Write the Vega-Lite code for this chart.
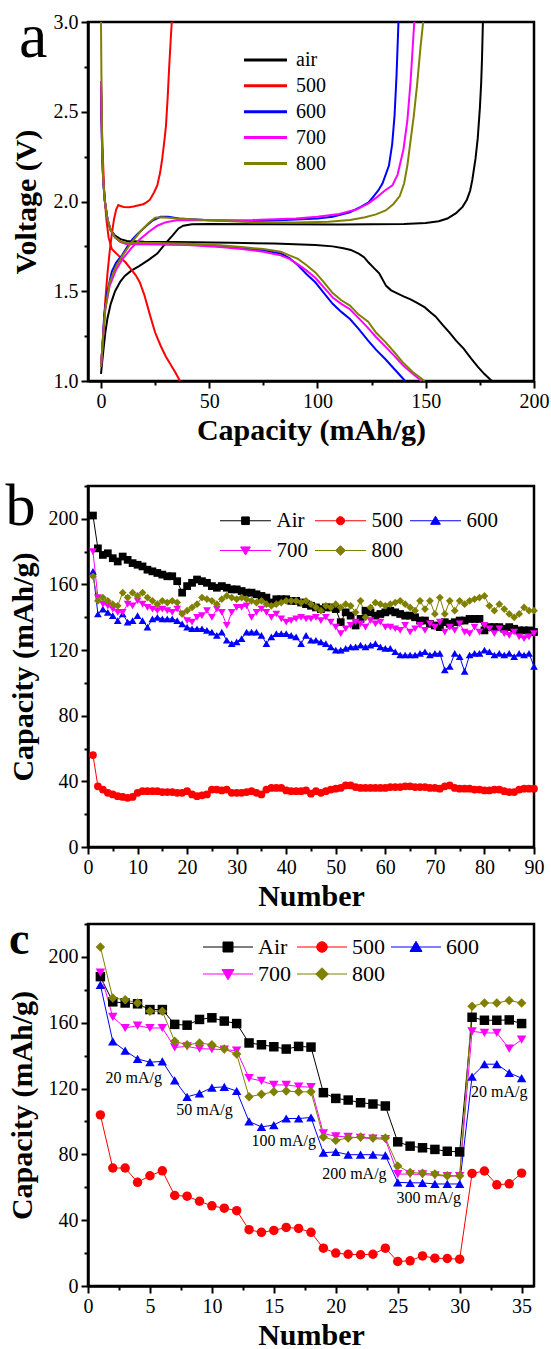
{
"$schema":"https://vega.github.io/schema/vega-lite/v6.json",
"background":"white",
"padding":{"left":4,"top":4,"right":0,"bottom":0},
"bounds":"flush",
"spacing":105,
"resolve":{"scale":{"x":"independent","y":"independent","color":"independent","shape":"independent"},"legend":{"color":"independent","shape":"independent"},"axis":{"x":"independent","y":"independent"}},
"config":{
 "font":"Liberation Serif",
 "view":{"stroke":"black","strokeWidth":2.5},
 "axis":{"labelFont":"Liberation Serif","labelFontSize":20,"labelColor":"black","titleFont":"Liberation Serif","titleFontSize":30,"titleFontWeight":"bold","titleColor":"black","domainColor":"black","domainWidth":2.5,"tickColor":"black","tickWidth":2,"grid":false,"labelPadding":3,"labelOverlap":false,"labelFlush":false},
 "axisX":{"titlePadding":4},
 "axisY":{"titlePadding":11},
 "legend":{"labelFont":"Liberation Serif"},
 "title":{"font":"Liberation Serif","color":"black","anchor":"start","frame":"group","offset":0,"baseline":"alphabetic"}
},
"vconcat":[
{
 "width":446,"height":359,
 "title":{"text":"a","fontSize":64,"fontWeight":"normal","dx":-69,"dy":62},
 "data":{"values":[
{"s":"air","g":"d","x":0,"y":2.67},{"s":"air","g":"d","x":0.5,"y":2.3},{"s":"air","g":"d","x":1,"y":2.12},{"s":"air","g":"d","x":1.8,"y":2.0},{"s":"air","g":"d","x":3,"y":1.9},{"s":"air","g":"d","x":4.5,"y":1.84},{"s":"air","g":"d","x":6.5,"y":1.81},{"s":"air","g":"d","x":9,"y":1.79},{"s":"air","g":"d","x":12,"y":1.78},{"s":"air","g":"d","x":20,"y":1.776},{"s":"air","g":"d","x":34,"y":1.774},{"s":"air","g":"d","x":60,"y":1.77},{"s":"air","g":"d","x":80,"y":1.766},{"s":"air","g":"d","x":99,"y":1.757},{"s":"air","g":"d","x":107,"y":1.75},{"s":"air","g":"d","x":112,"y":1.74},{"s":"air","g":"d","x":115.4,"y":1.73},{"s":"air","g":"d","x":119,"y":1.71},{"s":"air","g":"d","x":121.5,"y":1.69},{"s":"air","g":"d","x":123.6,"y":1.66},{"s":"air","g":"d","x":126,"y":1.63},{"s":"air","g":"d","x":128.5,"y":1.6},{"s":"air","g":"d","x":131.7,"y":1.53},{"s":"air","g":"d","x":134,"y":1.505},{"s":"air","g":"d","x":136.6,"y":1.49},{"s":"air","g":"d","x":140,"y":1.47},{"s":"air","g":"d","x":143,"y":1.455},{"s":"air","g":"d","x":146,"y":1.435},{"s":"air","g":"d","x":149.6,"y":1.41},{"s":"air","g":"d","x":152,"y":1.385},{"s":"air","g":"d","x":154.5,"y":1.36},{"s":"air","g":"d","x":158,"y":1.31},{"s":"air","g":"d","x":161,"y":1.27},{"s":"air","g":"d","x":164,"y":1.225},{"s":"air","g":"d","x":167.5,"y":1.18},{"s":"air","g":"d","x":171,"y":1.125},{"s":"air","g":"d","x":174,"y":1.08},{"s":"air","g":"d","x":177,"y":1.04},{"s":"air","g":"d","x":180.5,"y":1.0},
{"s":"air","g":"c","x":0,"y":1.04},{"s":"air","g":"c","x":0.5,"y":1.1},{"s":"air","g":"c","x":1,"y":1.16},{"s":"air","g":"c","x":2,"y":1.27},{"s":"air","g":"c","x":3,"y":1.35},{"s":"air","g":"c","x":4.5,"y":1.43},{"s":"air","g":"c","x":6.5,"y":1.5},{"s":"air","g":"c","x":9,"y":1.555},{"s":"air","g":"c","x":11,"y":1.585},{"s":"air","g":"c","x":14,"y":1.615},{"s":"air","g":"c","x":17.6,"y":1.64},{"s":"air","g":"c","x":22,"y":1.675},{"s":"air","g":"c","x":26,"y":1.71},{"s":"air","g":"c","x":30,"y":1.77},{"s":"air","g":"c","x":33,"y":1.81},{"s":"air","g":"c","x":35.8,"y":1.85},{"s":"air","g":"c","x":38,"y":1.865},{"s":"air","g":"c","x":42,"y":1.873},{"s":"air","g":"c","x":50,"y":1.875},{"s":"air","g":"c","x":80,"y":1.873},{"s":"air","g":"c","x":110,"y":1.872},{"s":"air","g":"c","x":140,"y":1.875},{"s":"air","g":"c","x":150,"y":1.88},{"s":"air","g":"c","x":156,"y":1.89},{"s":"air","g":"c","x":160,"y":1.905},{"s":"air","g":"c","x":164,"y":1.935},{"s":"air","g":"c","x":167,"y":1.97},{"s":"air","g":"c","x":169,"y":2.01},{"s":"air","g":"c","x":170.5,"y":2.06},{"s":"air","g":"c","x":171.5,"y":2.12},{"s":"air","g":"c","x":173,"y":2.24},{"s":"air","g":"c","x":174,"y":2.35},{"s":"air","g":"c","x":175,"y":2.52},{"s":"air","g":"c","x":175.6,"y":2.66},{"s":"air","g":"c","x":176,"y":2.8},{"s":"air","g":"c","x":176.4,"y":3.0},
{"s":"500","g":"d","x":0,"y":2.6},{"s":"500","g":"d","x":0.7,"y":2.3},{"s":"500","g":"d","x":1.5,"y":2.05},{"s":"500","g":"d","x":2.5,"y":1.9},{"s":"500","g":"d","x":3.5,"y":1.8},{"s":"500","g":"d","x":5,"y":1.735},{"s":"500","g":"d","x":8,"y":1.7},{"s":"500","g":"d","x":11.4,"y":1.66},{"s":"500","g":"d","x":14,"y":1.62},{"s":"500","g":"d","x":16,"y":1.59},{"s":"500","g":"d","x":17.9,"y":1.55},{"s":"500","g":"d","x":20,"y":1.48},{"s":"500","g":"d","x":22.8,"y":1.36},{"s":"500","g":"d","x":25,"y":1.27},{"s":"500","g":"d","x":27.6,"y":1.195},{"s":"500","g":"d","x":30,"y":1.135},{"s":"500","g":"d","x":32.5,"y":1.085},{"s":"500","g":"d","x":34.5,"y":1.045},{"s":"500","g":"d","x":36.5,"y":1.0},
{"s":"500","g":"c","x":0,"y":1.08},{"s":"500","g":"c","x":1,"y":1.25},{"s":"500","g":"c","x":2,"y":1.45},{"s":"500","g":"c","x":3,"y":1.6},{"s":"500","g":"c","x":4,"y":1.72},{"s":"500","g":"c","x":5,"y":1.82},{"s":"500","g":"c","x":6,"y":1.9},{"s":"500","g":"c","x":7,"y":1.955},{"s":"500","g":"c","x":8,"y":1.98},{"s":"500","g":"c","x":9,"y":1.975},{"s":"500","g":"c","x":10.5,"y":1.97},{"s":"500","g":"c","x":13,"y":1.968},{"s":"500","g":"c","x":15,"y":1.972},{"s":"500","g":"c","x":17,"y":1.978},{"s":"500","g":"c","x":19.5,"y":1.985},{"s":"500","g":"c","x":21,"y":1.995},{"s":"500","g":"c","x":22.6,"y":2.01},{"s":"500","g":"c","x":24.5,"y":2.05},{"s":"500","g":"c","x":26,"y":2.09},{"s":"500","g":"c","x":27.3,"y":2.16},{"s":"500","g":"c","x":28.3,"y":2.24},{"s":"500","g":"c","x":29.3,"y":2.34},{"s":"500","g":"c","x":30,"y":2.42},{"s":"500","g":"c","x":30.8,"y":2.58},{"s":"500","g":"c","x":31.5,"y":2.75},{"s":"500","g":"c","x":32.2,"y":2.9},{"s":"500","g":"c","x":32.7,"y":3.0},
{"s":"600","g":"d","x":0,"y":2.67},{"s":"600","g":"d","x":0.5,"y":2.3},{"s":"600","g":"d","x":1,"y":2.12},{"s":"600","g":"d","x":1.8,"y":2.0},{"s":"600","g":"d","x":3,"y":1.9},{"s":"600","g":"d","x":4.5,"y":1.84},{"s":"600","g":"d","x":6.5,"y":1.8},{"s":"600","g":"d","x":9,"y":1.775},{"s":"600","g":"d","x":12,"y":1.765},{"s":"600","g":"d","x":20,"y":1.765},{"s":"600","g":"d","x":40,"y":1.76},{"s":"600","g":"d","x":55,"y":1.75},{"s":"600","g":"d","x":65,"y":1.74},{"s":"600","g":"d","x":75,"y":1.728},{"s":"600","g":"d","x":83,"y":1.71},{"s":"600","g":"d","x":87,"y":1.685},{"s":"600","g":"d","x":91,"y":1.645},{"s":"600","g":"d","x":95,"y":1.595},{"s":"600","g":"d","x":99,"y":1.55},{"s":"600","g":"d","x":103,"y":1.49},{"s":"600","g":"d","x":107,"y":1.43},{"s":"600","g":"d","x":111,"y":1.385},{"s":"600","g":"d","x":115,"y":1.345},{"s":"600","g":"d","x":119,"y":1.29},{"s":"600","g":"d","x":123,"y":1.23},{"s":"600","g":"d","x":127,"y":1.175},{"s":"600","g":"d","x":131.5,"y":1.12},{"s":"600","g":"d","x":136,"y":1.06},{"s":"600","g":"d","x":140.5,"y":1.0},
{"s":"600","g":"c","x":0,"y":1.08},{"s":"600","g":"c","x":0.7,"y":1.2},{"s":"600","g":"c","x":1.5,"y":1.37},{"s":"600","g":"c","x":3,"y":1.5},{"s":"600","g":"c","x":5,"y":1.61},{"s":"600","g":"c","x":7,"y":1.66},{"s":"600","g":"c","x":9.7,"y":1.7},{"s":"600","g":"c","x":12,"y":1.745},{"s":"600","g":"c","x":14.6,"y":1.79},{"s":"600","g":"c","x":17,"y":1.82},{"s":"600","g":"c","x":21,"y":1.865},{"s":"600","g":"c","x":24,"y":1.895},{"s":"600","g":"c","x":27.5,"y":1.915},{"s":"600","g":"c","x":31,"y":1.915},{"s":"600","g":"c","x":36,"y":1.905},{"s":"600","g":"c","x":50,"y":1.895},{"s":"600","g":"c","x":70,"y":1.89},{"s":"600","g":"c","x":90,"y":1.9},{"s":"600","g":"c","x":100,"y":1.905},{"s":"600","g":"c","x":107,"y":1.915},{"s":"600","g":"c","x":115,"y":1.94},{"s":"600","g":"c","x":120,"y":1.97},{"s":"600","g":"c","x":123.6,"y":1.995},{"s":"600","g":"c","x":126,"y":2.03},{"s":"600","g":"c","x":128,"y":2.06},{"s":"600","g":"c","x":130,"y":2.1},{"s":"600","g":"c","x":133,"y":2.2},{"s":"600","g":"c","x":134.5,"y":2.32},{"s":"600","g":"c","x":135.6,"y":2.48},{"s":"600","g":"c","x":136.5,"y":2.7},{"s":"600","g":"c","x":137.4,"y":3.0},
{"s":"700","g":"d","x":0,"y":2.67},{"s":"700","g":"d","x":0.5,"y":2.3},{"s":"700","g":"d","x":1,"y":2.12},{"s":"700","g":"d","x":1.8,"y":2.0},{"s":"700","g":"d","x":3,"y":1.9},{"s":"700","g":"d","x":4.5,"y":1.84},{"s":"700","g":"d","x":6.5,"y":1.8},{"s":"700","g":"d","x":9,"y":1.775},{"s":"700","g":"d","x":12,"y":1.762},{"s":"700","g":"d","x":20,"y":1.762},{"s":"700","g":"d","x":40,"y":1.757},{"s":"700","g":"d","x":55,"y":1.747},{"s":"700","g":"d","x":65,"y":1.735},{"s":"700","g":"d","x":75,"y":1.72},{"s":"700","g":"d","x":83,"y":1.7},{"s":"700","g":"d","x":87,"y":1.68},{"s":"700","g":"d","x":91,"y":1.65},{"s":"700","g":"d","x":95,"y":1.615},{"s":"700","g":"d","x":99,"y":1.575},{"s":"700","g":"d","x":103,"y":1.52},{"s":"700","g":"d","x":107,"y":1.465},{"s":"700","g":"d","x":111,"y":1.43},{"s":"700","g":"d","x":115,"y":1.4},{"s":"700","g":"d","x":119,"y":1.35},{"s":"700","g":"d","x":123,"y":1.3},{"s":"700","g":"d","x":127,"y":1.245},{"s":"700","g":"d","x":131.5,"y":1.19},{"s":"700","g":"d","x":135.5,"y":1.14},{"s":"700","g":"d","x":139.7,"y":1.085},{"s":"700","g":"d","x":144,"y":1.04},{"s":"700","g":"d","x":148,"y":1.0},
{"s":"700","g":"c","x":0,"y":1.08},{"s":"700","g":"c","x":1,"y":1.25},{"s":"700","g":"c","x":2,"y":1.4},{"s":"700","g":"c","x":4,"y":1.53},{"s":"700","g":"c","x":7,"y":1.62},{"s":"700","g":"c","x":10,"y":1.68},{"s":"700","g":"c","x":14,"y":1.74},{"s":"700","g":"c","x":18,"y":1.79},{"s":"700","g":"c","x":22,"y":1.83},{"s":"700","g":"c","x":26,"y":1.865},{"s":"700","g":"c","x":30,"y":1.885},{"s":"700","g":"c","x":35,"y":1.895},{"s":"700","g":"c","x":50,"y":1.895},{"s":"700","g":"c","x":70,"y":1.897},{"s":"700","g":"c","x":90,"y":1.905},{"s":"700","g":"c","x":100,"y":1.915},{"s":"700","g":"c","x":110,"y":1.93},{"s":"700","g":"c","x":118,"y":1.955},{"s":"700","g":"c","x":123.5,"y":1.99},{"s":"700","g":"c","x":127,"y":2.02},{"s":"700","g":"c","x":131,"y":2.06},{"s":"700","g":"c","x":134.6,"y":2.09},{"s":"700","g":"c","x":137,"y":2.15},{"s":"700","g":"c","x":139.7,"y":2.29},{"s":"700","g":"c","x":141.5,"y":2.45},{"s":"700","g":"c","x":143,"y":2.67},{"s":"700","g":"c","x":144.7,"y":3.0},
{"s":"800","g":"d","x":0,"y":3.0},{"s":"800","g":"d","x":0.2,"y":2.7},{"s":"800","g":"d","x":0.5,"y":2.35},{"s":"800","g":"d","x":1,"y":2.13},{"s":"800","g":"d","x":1.8,"y":2.0},{"s":"800","g":"d","x":3,"y":1.9},{"s":"800","g":"d","x":4.5,"y":1.84},{"s":"800","g":"d","x":6.5,"y":1.8},{"s":"800","g":"d","x":9,"y":1.778},{"s":"800","g":"d","x":12,"y":1.768},{"s":"800","g":"d","x":20,"y":1.77},{"s":"800","g":"d","x":40,"y":1.765},{"s":"800","g":"d","x":55,"y":1.756},{"s":"800","g":"d","x":65,"y":1.746},{"s":"800","g":"d","x":75,"y":1.735},{"s":"800","g":"d","x":83,"y":1.72},{"s":"800","g":"d","x":87,"y":1.7},{"s":"800","g":"d","x":91,"y":1.68},{"s":"800","g":"d","x":95,"y":1.645},{"s":"800","g":"d","x":99,"y":1.605},{"s":"800","g":"d","x":103,"y":1.55},{"s":"800","g":"d","x":107,"y":1.49},{"s":"800","g":"d","x":111,"y":1.45},{"s":"800","g":"d","x":115,"y":1.42},{"s":"800","g":"d","x":119,"y":1.37},{"s":"800","g":"d","x":123.4,"y":1.33},{"s":"800","g":"d","x":127,"y":1.27},{"s":"800","g":"d","x":131.5,"y":1.215},{"s":"800","g":"d","x":135.5,"y":1.16},{"s":"800","g":"d","x":139.7,"y":1.1},{"s":"800","g":"d","x":144,"y":1.05},{"s":"800","g":"d","x":149.5,"y":1.0},
{"s":"800","g":"c","x":0,"y":1.08},{"s":"800","g":"c","x":1,"y":1.25},{"s":"800","g":"c","x":2,"y":1.4},{"s":"800","g":"c","x":4,"y":1.55},{"s":"800","g":"c","x":7,"y":1.64},{"s":"800","g":"c","x":10,"y":1.7},{"s":"800","g":"c","x":14,"y":1.77},{"s":"800","g":"c","x":18,"y":1.83},{"s":"800","g":"c","x":22,"y":1.88},{"s":"800","g":"c","x":25,"y":1.91},{"s":"800","g":"c","x":28,"y":1.912},{"s":"800","g":"c","x":35,"y":1.905},{"s":"800","g":"c","x":50,"y":1.895},{"s":"800","g":"c","x":70,"y":1.885},{"s":"800","g":"c","x":90,"y":1.883},{"s":"800","g":"c","x":105,"y":1.887},{"s":"800","g":"c","x":115,"y":1.897},{"s":"800","g":"c","x":122,"y":1.912},{"s":"800","g":"c","x":127,"y":1.928},{"s":"800","g":"c","x":131.5,"y":1.95},{"s":"800","g":"c","x":135,"y":1.985},{"s":"800","g":"c","x":138,"y":2.03},{"s":"800","g":"c","x":140,"y":2.1},{"s":"800","g":"c","x":141.5,"y":2.2},{"s":"800","g":"c","x":143,"y":2.34},{"s":"800","g":"c","x":144.5,"y":2.48},{"s":"800","g":"c","x":146,"y":2.65},{"s":"800","g":"c","x":147.5,"y":2.85},{"s":"800","g":"c","x":148.8,"y":3.0}
 ]},
 "mark":{"type":"line","strokeWidth":2},
 "encoding":{
  "x":{"field":"x","type":"quantitative","scale":{"domain":[-6,200],"nice":false,"zero":false},
   "axis":{"title":"Capacity (mAh/g)","values":[0,25,50,75,100,125,150,175,200],"labelExpr":"datum.value % 50 === 0 ? datum.label : ''","tickSize":{"condition":{"test":"datum.value % 50 !== 0","value":4},"value":7}}},
  "y":{"field":"y","type":"quantitative","scale":{"domain":[1,3],"nice":false,"zero":false},
   "axis":{"title":"Voltage (V)","titlePadding":12,"values":[1,1.25,1.5,1.75,2,2.25,2.5,2.75,3],"labelExpr":"round(datum.value*100) % 50 === 0 ? format(datum.value,'.1f') : ''","tickSize":{"condition":{"test":"round(datum.value*100) % 50 !== 0","value":4},"value":7}}},
  "color":{"field":"s","type":"nominal","scale":{"domain":["air","500","600","700","800"],"range":["#000000","#ff0000","#0000ff","#ff00ff","#808000"]},
   "legend":{"title":null,"orient":"none","legendX":156,"legendY":25.4,"symbolType":"M-2,0H2","symbolSize":462,"symbolStrokeWidth":3,"symbolOffset":9,"labelOffset":18,"labelFont":"Liberation Serif","labelFontSize":20,"labelColor":"black","rowPadding":2.9,"padding":0}},
  "detail":{"field":"g"}
 }
},
{
 "bounds":"flush",
 "spacing":77,
 "resolve":{"scale":{"x":"independent","y":"independent","color":"independent","shape":"independent"},"legend":{"color":"independent","shape":"independent"},"axis":{"x":"independent","y":"independent"}},
 "vconcat":[
 {
  "width":446,"height":361,
  "title":{"text":"b","fontSize":60,"fontWeight":"normal","dx":-82.5,"dy":66},
  "data":{"values":[
{"s":"Air","n":1,"v":202},{"s":"Air","n":2,"v":182},{"s":"Air","n":3,"v":178},{"s":"Air","n":4,"v":179},{"s":"Air","n":5,"v":176},{"s":"Air","n":6,"v":174},{"s":"Air","n":7,"v":177},{"s":"Air","n":8,"v":175},{"s":"Air","n":9,"v":173},{"s":"Air","n":10,"v":172},
{"s":"Air","n":11,"v":171},{"s":"Air","n":12,"v":169},{"s":"Air","n":13,"v":168},{"s":"Air","n":14,"v":167},{"s":"Air","n":15,"v":166},{"s":"Air","n":16,"v":165},{"s":"Air","n":17,"v":165},{"s":"Air","n":18,"v":162},{"s":"Air","n":19,"v":155},{"s":"Air","n":20,"v":159},
{"s":"Air","n":21,"v":161},{"s":"Air","n":22,"v":163},{"s":"Air","n":23,"v":162},{"s":"Air","n":24,"v":161},{"s":"Air","n":25,"v":159},{"s":"Air","n":26,"v":158},{"s":"Air","n":27,"v":159},{"s":"Air","n":28,"v":158},{"s":"Air","n":29,"v":157},{"s":"Air","n":30,"v":157},
{"s":"Air","n":31,"v":156},{"s":"Air","n":32,"v":155},{"s":"Air","n":33,"v":155},{"s":"Air","n":34,"v":154},{"s":"Air","n":35,"v":153},{"s":"Air","n":36,"v":152},{"s":"Air","n":37,"v":149},{"s":"Air","n":38,"v":151},{"s":"Air","n":39,"v":151},{"s":"Air","n":40,"v":151},
{"s":"Air","n":41,"v":150},{"s":"Air","n":42,"v":150},{"s":"Air","n":43,"v":149},{"s":"Air","n":44,"v":148},{"s":"Air","n":45,"v":147},{"s":"Air","n":46,"v":146},{"s":"Air","n":47,"v":145},{"s":"Air","n":48,"v":146},{"s":"Air","n":49,"v":146},{"s":"Air","n":50,"v":145},
{"s":"Air","n":51,"v":137},{"s":"Air","n":52,"v":143},{"s":"Air","n":53,"v":141},{"s":"Air","n":54,"v":135},{"s":"Air","n":55,"v":139},{"s":"Air","n":56,"v":144},{"s":"Air","n":57,"v":143},{"s":"Air","n":58,"v":141},{"s":"Air","n":59,"v":142},{"s":"Air","n":60,"v":143},
{"s":"Air","n":61,"v":144},{"s":"Air","n":62,"v":143},{"s":"Air","n":63,"v":142},{"s":"Air","n":64,"v":141},{"s":"Air","n":65,"v":141},{"s":"Air","n":66,"v":140},{"s":"Air","n":67,"v":138},{"s":"Air","n":68,"v":138},{"s":"Air","n":69,"v":136},{"s":"Air","n":70,"v":135},
{"s":"Air","n":71,"v":134},{"s":"Air","n":72,"v":137},{"s":"Air","n":73,"v":136},{"s":"Air","n":74,"v":137},{"s":"Air","n":75,"v":138},{"s":"Air","n":76,"v":138},{"s":"Air","n":77,"v":139},{"s":"Air","n":78,"v":139},{"s":"Air","n":79,"v":139},{"s":"Air","n":80,"v":132},
{"s":"Air","n":81,"v":134},{"s":"Air","n":82,"v":134},{"s":"Air","n":83,"v":134},{"s":"Air","n":84,"v":133},{"s":"Air","n":85,"v":134},{"s":"Air","n":86,"v":133},{"s":"Air","n":87,"v":132},{"s":"Air","n":88,"v":132},{"s":"Air","n":89,"v":132},{"s":"Air","n":90,"v":131},
{"s":"500","n":1,"v":56},{"s":"500","n":2,"v":37},{"s":"500","n":3,"v":35},{"s":"500","n":4,"v":33},{"s":"500","n":5,"v":32},{"s":"500","n":6,"v":31},{"s":"500","n":7,"v":30.5},{"s":"500","n":8,"v":30},{"s":"500","n":9,"v":30.5},{"s":"500","n":10,"v":33},
{"s":"500","n":11,"v":34},{"s":"500","n":12,"v":34},{"s":"500","n":13,"v":34},{"s":"500","n":14,"v":34},{"s":"500","n":15,"v":33.5},{"s":"500","n":16,"v":33.5},{"s":"500","n":17,"v":33.5},{"s":"500","n":18,"v":33},{"s":"500","n":19,"v":33},{"s":"500","n":20,"v":34},
{"s":"500","n":21,"v":32},{"s":"500","n":22,"v":31},{"s":"500","n":23,"v":31.5},{"s":"500","n":24,"v":32},{"s":"500","n":25,"v":35},{"s":"500","n":26,"v":35},{"s":"500","n":27,"v":34.5},{"s":"500","n":28,"v":35},{"s":"500","n":29,"v":33},{"s":"500","n":30,"v":33},
{"s":"500","n":31,"v":33},{"s":"500","n":32,"v":33.5},{"s":"500","n":33,"v":34},{"s":"500","n":34,"v":33},{"s":"500","n":35,"v":32},{"s":"500","n":36,"v":35},{"s":"500","n":37,"v":36},{"s":"500","n":38,"v":36},{"s":"500","n":39,"v":36},{"s":"500","n":40,"v":34.5},
{"s":"500","n":41,"v":34},{"s":"500","n":42,"v":34},{"s":"500","n":43,"v":34},{"s":"500","n":44,"v":34.5},{"s":"500","n":45,"v":32.5},{"s":"500","n":46,"v":34},{"s":"500","n":47,"v":33},{"s":"500","n":48,"v":34},{"s":"500","n":49,"v":35},{"s":"500","n":50,"v":35.5},
{"s":"500","n":51,"v":36},{"s":"500","n":52,"v":37.5},{"s":"500","n":53,"v":37.5},{"s":"500","n":54,"v":36.5},{"s":"500","n":55,"v":36},{"s":"500","n":56,"v":36},{"s":"500","n":57,"v":36},{"s":"500","n":58,"v":36},{"s":"500","n":59,"v":36},{"s":"500","n":60,"v":36},
{"s":"500","n":61,"v":36.5},{"s":"500","n":62,"v":36.5},{"s":"500","n":63,"v":36.5},{"s":"500","n":64,"v":37},{"s":"500","n":65,"v":37},{"s":"500","n":66,"v":36.5},{"s":"500","n":67,"v":36.5},{"s":"500","n":68,"v":36.5},{"s":"500","n":69,"v":36},{"s":"500","n":70,"v":36},
{"s":"500","n":71,"v":35.5},{"s":"500","n":72,"v":37},{"s":"500","n":73,"v":37.5},{"s":"500","n":74,"v":36},{"s":"500","n":75,"v":35.5},{"s":"500","n":76,"v":35.5},{"s":"500","n":77,"v":35.5},{"s":"500","n":78,"v":35},{"s":"500","n":79,"v":35},{"s":"500","n":80,"v":34.5},
{"s":"500","n":81,"v":34.5},{"s":"500","n":82,"v":35},{"s":"500","n":83,"v":35},{"s":"500","n":84,"v":34},{"s":"500","n":85,"v":33.5},{"s":"500","n":86,"v":33.5},{"s":"500","n":87,"v":35},{"s":"500","n":88,"v":35.5},{"s":"500","n":89,"v":35.5},{"s":"500","n":90,"v":35.5},
{"s":"600","n":1,"v":168},{"s":"600","n":2,"v":142},{"s":"600","n":3,"v":145},{"s":"600","n":4,"v":143},{"s":"600","n":5,"v":141},{"s":"600","n":6,"v":138},{"s":"600","n":7,"v":142},{"s":"600","n":8,"v":137},{"s":"600","n":9,"v":138},{"s":"600","n":10,"v":141},
{"s":"600","n":11,"v":138},{"s":"600","n":12,"v":134},{"s":"600","n":13,"v":139},{"s":"600","n":14,"v":140},{"s":"600","n":15,"v":139},{"s":"600","n":16,"v":139},{"s":"600","n":17,"v":139},{"s":"600","n":18,"v":138},{"s":"600","n":19,"v":136},{"s":"600","n":20,"v":134},
{"s":"600","n":21,"v":133},{"s":"600","n":22,"v":133},{"s":"600","n":23,"v":133},{"s":"600","n":24,"v":132},{"s":"600","n":25,"v":131},{"s":"600","n":26,"v":129},{"s":"600","n":27,"v":131},{"s":"600","n":28,"v":126},{"s":"600","n":29,"v":124},{"s":"600","n":30,"v":125},
{"s":"600","n":31,"v":127},{"s":"600","n":32,"v":131},{"s":"600","n":33,"v":131},{"s":"600","n":34,"v":131},{"s":"600","n":35,"v":129},{"s":"600","n":36,"v":124},{"s":"600","n":37,"v":128},{"s":"600","n":38,"v":130},{"s":"600","n":39,"v":130},{"s":"600","n":40,"v":130},
{"s":"600","n":41,"v":129},{"s":"600","n":42,"v":128},{"s":"600","n":43,"v":124},{"s":"600","n":44,"v":129},{"s":"600","n":45,"v":126},{"s":"600","n":46,"v":126},{"s":"600","n":47,"v":125},{"s":"600","n":48,"v":124},{"s":"600","n":49,"v":122},{"s":"600","n":50,"v":120},
{"s":"600","n":51,"v":120},{"s":"600","n":52,"v":121},{"s":"600","n":53,"v":122},{"s":"600","n":54,"v":122},{"s":"600","n":55,"v":123},{"s":"600","n":56,"v":122},{"s":"600","n":57,"v":123},{"s":"600","n":58,"v":124},{"s":"600","n":59,"v":122},{"s":"600","n":60,"v":121},
{"s":"600","n":61,"v":121},{"s":"600","n":62,"v":119},{"s":"600","n":63,"v":117},{"s":"600","n":64,"v":117},{"s":"600","n":65,"v":117},{"s":"600","n":66,"v":117},{"s":"600","n":67,"v":118},{"s":"600","n":68,"v":119},{"s":"600","n":69,"v":117},{"s":"600","n":70,"v":118},
{"s":"600","n":71,"v":118},{"s":"600","n":72,"v":108},{"s":"600","n":73,"v":110},{"s":"600","n":74,"v":118},{"s":"600","n":75,"v":116},{"s":"600","n":76,"v":107},{"s":"600","n":77,"v":117},{"s":"600","n":78,"v":118},{"s":"600","n":79,"v":118},{"s":"600","n":80,"v":120},
{"s":"600","n":81,"v":119},{"s":"600","n":82,"v":117},{"s":"600","n":83,"v":118},{"s":"600","n":84,"v":117},{"s":"600","n":85,"v":118},{"s":"600","n":86,"v":116},{"s":"600","n":87,"v":118},{"s":"600","n":88,"v":117},{"s":"600","n":89,"v":118},{"s":"600","n":90,"v":110},
{"s":"700","n":1,"v":180},{"s":"700","n":2,"v":152},{"s":"700","n":3,"v":148},{"s":"700","n":4,"v":147},{"s":"700","n":5,"v":145},{"s":"700","n":6,"v":143},{"s":"700","n":7,"v":143},{"s":"700","n":8,"v":148},{"s":"700","n":9,"v":147},{"s":"700","n":10,"v":150},
{"s":"700","n":11,"v":148},{"s":"700","n":12,"v":146},{"s":"700","n":13,"v":145},{"s":"700","n":14,"v":144},{"s":"700","n":15,"v":145},{"s":"700","n":16,"v":144},{"s":"700","n":17,"v":143},{"s":"700","n":18,"v":145},{"s":"700","n":19,"v":142},{"s":"700","n":20,"v":138},
{"s":"700","n":21,"v":137},{"s":"700","n":22,"v":140},{"s":"700","n":23,"v":141},{"s":"700","n":24,"v":144},{"s":"700","n":25,"v":140},{"s":"700","n":26,"v":145},{"s":"700","n":27,"v":143},{"s":"700","n":28,"v":135},{"s":"700","n":29,"v":143},{"s":"700","n":30,"v":146},
{"s":"700","n":31,"v":146},{"s":"700","n":32,"v":147},{"s":"700","n":33,"v":140},{"s":"700","n":34,"v":143},{"s":"700","n":35,"v":145},{"s":"700","n":36,"v":143},{"s":"700","n":37,"v":140},{"s":"700","n":38,"v":142},{"s":"700","n":39,"v":139},{"s":"700","n":40,"v":137},
{"s":"700","n":41,"v":138},{"s":"700","n":42,"v":139},{"s":"700","n":43,"v":140},{"s":"700","n":44,"v":139},{"s":"700","n":45,"v":139},{"s":"700","n":46,"v":140},{"s":"700","n":47,"v":138},{"s":"700","n":48,"v":140},{"s":"700","n":49,"v":137},{"s":"700","n":50,"v":134},
{"s":"700","n":51,"v":130},{"s":"700","n":52,"v":133},{"s":"700","n":53,"v":135},{"s":"700","n":54,"v":137},{"s":"700","n":55,"v":136},{"s":"700","n":56,"v":134},{"s":"700","n":57,"v":138},{"s":"700","n":58,"v":136},{"s":"700","n":59,"v":137},{"s":"700","n":60,"v":134},
{"s":"700","n":61,"v":134},{"s":"700","n":62,"v":133},{"s":"700","n":63,"v":132},{"s":"700","n":64,"v":135},{"s":"700","n":65,"v":131},{"s":"700","n":66,"v":133},{"s":"700","n":67,"v":135},{"s":"700","n":68,"v":132},{"s":"700","n":69,"v":136},{"s":"700","n":70,"v":134},
{"s":"700","n":71,"v":137},{"s":"700","n":72,"v":131},{"s":"700","n":73,"v":134},{"s":"700","n":74,"v":132},{"s":"700","n":75,"v":136},{"s":"700","n":76,"v":131},{"s":"700","n":77,"v":130},{"s":"700","n":78,"v":134},{"s":"700","n":79,"v":131},{"s":"700","n":80,"v":135},
{"s":"700","n":81,"v":133},{"s":"700","n":82,"v":130},{"s":"700","n":83,"v":133},{"s":"700","n":84,"v":130},{"s":"700","n":85,"v":129},{"s":"700","n":86,"v":131},{"s":"700","n":87,"v":128},{"s":"700","n":88,"v":127},{"s":"700","n":89,"v":128},{"s":"700","n":90,"v":130},
{"s":"800","n":1,"v":165},{"s":"800","n":2,"v":150},{"s":"800","n":3,"v":152},{"s":"800","n":4,"v":150},{"s":"800","n":5,"v":148},{"s":"800","n":6,"v":147},{"s":"800","n":7,"v":155},{"s":"800","n":8,"v":152},{"s":"800","n":9,"v":155},{"s":"800","n":10,"v":153},
{"s":"800","n":11,"v":155},{"s":"800","n":12,"v":152},{"s":"800","n":13,"v":150},{"s":"800","n":14,"v":148},{"s":"800","n":15,"v":150},{"s":"800","n":16,"v":149},{"s":"800","n":17,"v":150},{"s":"800","n":18,"v":149},{"s":"800","n":19,"v":142},{"s":"800","n":20,"v":144},
{"s":"800","n":21,"v":146},{"s":"800","n":22,"v":148},{"s":"800","n":23,"v":152},{"s":"800","n":24,"v":151},{"s":"800","n":25,"v":150},{"s":"800","n":26,"v":148},{"s":"800","n":27,"v":151},{"s":"800","n":28,"v":153},{"s":"800","n":29,"v":152},{"s":"800","n":30,"v":151},
{"s":"800","n":31,"v":152},{"s":"800","n":32,"v":151},{"s":"800","n":33,"v":150},{"s":"800","n":34,"v":149},{"s":"800","n":35,"v":150},{"s":"800","n":36,"v":148},{"s":"800","n":37,"v":147},{"s":"800","n":38,"v":148},{"s":"800","n":39,"v":149},{"s":"800","n":40,"v":150},
{"s":"800","n":41,"v":150},{"s":"800","n":42,"v":150},{"s":"800","n":43,"v":149},{"s":"800","n":44,"v":150},{"s":"800","n":45,"v":148},{"s":"800","n":46,"v":146},{"s":"800","n":47,"v":144},{"s":"800","n":48,"v":147},{"s":"800","n":49,"v":146},{"s":"800","n":50,"v":148},
{"s":"800","n":51,"v":146},{"s":"800","n":52,"v":148},{"s":"800","n":53,"v":147},{"s":"800","n":54,"v":143},{"s":"800","n":55,"v":150},{"s":"800","n":56,"v":140},{"s":"800","n":57,"v":146},{"s":"800","n":58,"v":149},{"s":"800","n":59,"v":148},{"s":"800","n":60,"v":147},
{"s":"800","n":61,"v":148},{"s":"800","n":62,"v":149},{"s":"800","n":63,"v":150},{"s":"800","n":64,"v":148},{"s":"800","n":65,"v":146},{"s":"800","n":66,"v":144},{"s":"800","n":67,"v":150},{"s":"800","n":68,"v":145},{"s":"800","n":69,"v":150},{"s":"800","n":70,"v":142},
{"s":"800","n":71,"v":152},{"s":"800","n":72,"v":142},{"s":"800","n":73,"v":150},{"s":"800","n":74,"v":144},{"s":"800","n":75,"v":150},{"s":"800","n":76,"v":148},{"s":"800","n":77,"v":150},{"s":"800","n":78,"v":151},{"s":"800","n":79,"v":152},{"s":"800","n":80,"v":153},
{"s":"800","n":81,"v":147},{"s":"800","n":82,"v":144},{"s":"800","n":83,"v":148},{"s":"800","n":84,"v":145},{"s":"800","n":85,"v":142},{"s":"800","n":86,"v":140},{"s":"800","n":87,"v":142},{"s":"800","n":88,"v":146},{"s":"800","n":89,"v":144},{"s":"800","n":90,"v":144}
  ]},
  "encoding":{
   "x":{"field":"n","type":"quantitative","scale":{"domain":[0,90],"nice":false,"zero":false},
    "axis":{"title":"Number","values":[0,5,10,15,20,25,30,35,40,45,50,55,60,65,70,75,80,85,90],"labelExpr":"datum.value % 10 === 0 ? datum.label : ''","tickSize":{"condition":{"test":"datum.value % 10 !== 0","value":4},"value":7}}},
   "y":{"field":"v","type":"quantitative","scale":{"domain":[0,220],"nice":false,"zero":false},
    "axis":{"title":"Capacity (mAh/g)","titlePadding":10,"values":[0,20,40,60,80,100,120,140,160,180,200,220],"labelExpr":"datum.value % 40 === 0 ? datum.label : ''","tickSize":{"condition":{"test":"datum.value % 40 !== 0","value":4},"value":7}}},
   "color":{"field":"s","type":"nominal","scale":{"domain":["Air","700","500","800","600"],"range":["#000000","#ff00ff","#ff0000","#808000","#0000ff"]},
    "legend":{"title":null,"orient":"none","legendX":132,"legendY":21,"columns":3,"symbolSize":650,"symbolStrokeWidth":1,"symbolOffset":12,"labelOffset":17.5,"labelFont":"Liberation Serif","labelFontSize":21,"labelColor":"black","rowPadding":6,"columnPadding":5,"padding":0,
     "encode":{"symbols":{"update":{"shape":{"signal":"datum.value==='Air'?'M-2,0H2M-0.3,-0.3H0.3V0.3H-0.3Z':datum.value==='500'?'M-2,0H2M-0.32,0A0.32,0.32,0,1,0,0.32,0A0.32,0.32,0,1,0,-0.32,0Z':datum.value==='600'?'M-2,0H2M0,-0.36L0.38,0.28H-0.38Z':datum.value==='700'?'M-2,0H2M0,0.36L0.38,-0.28H-0.38Z':'M-2,0H2M0,-0.38L0.38,0L0,0.38L-0.38,0Z'"},"opacity":{"value":1}}}}
    }
   }
  },
  "layer":[
   {"mark":{"type":"line","strokeWidth":1}},
   {"transform":[{"filter":"datum.s==='Air'"}],"mark":{"type":"point","filled":true,"size":60,"shape":"square","opacity":1}},
   {"transform":[{"filter":"datum.s==='500'"}],"mark":{"type":"point","filled":true,"size":60,"shape":"circle","opacity":1}},
   {"transform":[{"filter":"datum.s==='600'"}],"mark":{"type":"point","filled":true,"size":60,"shape":"triangle-up","opacity":1}},
   {"transform":[{"filter":"datum.s==='700'"}],"mark":{"type":"point","filled":true,"size":60,"shape":"triangle-down","opacity":1}},
   {"transform":[{"filter":"datum.s==='800'"}],"mark":{"type":"point","filled":true,"size":60,"shape":"diamond","opacity":1}}
  ]
 },
 {
  "width":446,"height":362,
  "title":{"text":"c","fontSize":46,"fontWeight":"bold","dx":-79,"dy":54},
  "data":{"values":[
{"s":"Air","n":1,"v":188},{"s":"Air","n":2,"v":172.7},{"s":"Air","n":3,"v":172},{"s":"Air","n":4,"v":171.5},{"s":"Air","n":5,"v":168},{"s":"Air","n":6,"v":168},{"s":"Air","n":7,"v":159},{"s":"Air","n":8,"v":158.5},{"s":"Air","n":9,"v":162},{"s":"Air","n":10,"v":163},{"s":"Air","n":11,"v":161},{"s":"Air","n":12,"v":159.5},{"s":"Air","n":13,"v":147.7},{"s":"Air","n":14,"v":146.6},{"s":"Air","n":15,"v":145.4},{"s":"Air","n":16,"v":144},{"s":"Air","n":17,"v":145.6},{"s":"Air","n":18,"v":145.2},{"s":"Air","n":19,"v":117.5},{"s":"Air","n":20,"v":114},{"s":"Air","n":21,"v":113},{"s":"Air","n":22,"v":111.4},{"s":"Air","n":23,"v":110.6},{"s":"Air","n":24,"v":109.4},{"s":"Air","n":25,"v":87.6},{"s":"Air","n":26,"v":85},{"s":"Air","n":27,"v":84},{"s":"Air","n":28,"v":83},{"s":"Air","n":29,"v":81.9},{"s":"Air","n":30,"v":81.5},{"s":"Air","n":31,"v":163.3},{"s":"Air","n":32,"v":161.5},{"s":"Air","n":33,"v":161.5},{"s":"Air","n":34,"v":161.7},{"s":"Air","n":35,"v":159.5},
{"s":"500","n":1,"v":104},{"s":"500","n":2,"v":71.7},{"s":"500","n":3,"v":71.7},{"s":"500","n":4,"v":63},{"s":"500","n":5,"v":67},{"s":"500","n":6,"v":70},{"s":"500","n":7,"v":55},{"s":"500","n":8,"v":54.6},{"s":"500","n":9,"v":51.5},{"s":"500","n":10,"v":48.7},{"s":"500","n":11,"v":47.3},{"s":"500","n":12,"v":45.8},{"s":"500","n":13,"v":34.2},{"s":"500","n":14,"v":32.6},{"s":"500","n":15,"v":33.8},{"s":"500","n":16,"v":35.6},{"s":"500","n":17,"v":35},{"s":"500","n":18,"v":32.6},{"s":"500","n":19,"v":23},{"s":"500","n":20,"v":20},{"s":"500","n":21,"v":19.3},{"s":"500","n":22,"v":19},{"s":"500","n":23,"v":19.3},{"s":"500","n":24,"v":23},{"s":"500","n":25,"v":14.9},{"s":"500","n":26,"v":15.3},{"s":"500","n":27,"v":18.3},{"s":"500","n":28,"v":16.9},{"s":"500","n":29,"v":16.7},{"s":"500","n":30,"v":16.3},{"s":"500","n":31,"v":68.4},{"s":"500","n":32,"v":69.9},{"s":"500","n":33,"v":61.5},{"s":"500","n":34,"v":62.1},{"s":"500","n":35,"v":68.6},
{"s":"600","n":1,"v":183},{"s":"600","n":2,"v":148.7},{"s":"600","n":3,"v":143},{"s":"600","n":4,"v":138},{"s":"600","n":5,"v":136},{"s":"600","n":6,"v":136.5},{"s":"600","n":7,"v":125},{"s":"600","n":8,"v":115},{"s":"600","n":9,"v":117},{"s":"600","n":10,"v":120.6},{"s":"600","n":11,"v":121},{"s":"600","n":12,"v":118.5},{"s":"600","n":13,"v":100},{"s":"600","n":14,"v":96.7},{"s":"600","n":15,"v":97.8},{"s":"600","n":16,"v":101.8},{"s":"600","n":17,"v":101.8},{"s":"600","n":18,"v":102.4},{"s":"600","n":19,"v":81},{"s":"600","n":20,"v":81.5},{"s":"600","n":21,"v":79.8},{"s":"600","n":22,"v":79.8},{"s":"600","n":23,"v":79.8},{"s":"600","n":24,"v":79.4},{"s":"600","n":25,"v":63},{"s":"600","n":26,"v":62.7},{"s":"600","n":27,"v":62.7},{"s":"600","n":28,"v":62},{"s":"600","n":29,"v":62},{"s":"600","n":30,"v":62},{"s":"600","n":31,"v":127.3},{"s":"600","n":32,"v":134.8},{"s":"600","n":33,"v":134.8},{"s":"600","n":34,"v":129.5},{"s":"600","n":35,"v":126.3},
{"s":"700","n":1,"v":190.4},{"s":"700","n":2,"v":163.5},{"s":"700","n":3,"v":156.8},{"s":"700","n":4,"v":158.2},{"s":"700","n":5,"v":156.8},{"s":"700","n":6,"v":156.8},{"s":"700","n":7,"v":145},{"s":"700","n":8,"v":145.6},{"s":"700","n":9,"v":144.2},{"s":"700","n":10,"v":144},{"s":"700","n":11,"v":143.6},{"s":"700","n":12,"v":143},{"s":"700","n":13,"v":126.3},{"s":"700","n":14,"v":124.6},{"s":"700","n":15,"v":122.2},{"s":"700","n":16,"v":122.2},{"s":"700","n":17,"v":121.2},{"s":"700","n":18,"v":120.8},{"s":"700","n":19,"v":92.7},{"s":"700","n":20,"v":91},{"s":"700","n":21,"v":90.6},{"s":"700","n":22,"v":90},{"s":"700","n":23,"v":89.6},{"s":"700","n":24,"v":89.2},{"s":"700","n":25,"v":68},{"s":"700","n":26,"v":68},{"s":"700","n":27,"v":67.8},{"s":"700","n":28,"v":67.2},{"s":"700","n":29,"v":66.8},{"s":"700","n":30,"v":66.8},{"s":"700","n":31,"v":154.8},{"s":"700","n":32,"v":153.8},{"s":"700","n":33,"v":153.8},{"s":"700","n":34,"v":144.2},{"s":"700","n":35,"v":149.7},
{"s":"800","n":1,"v":206},{"s":"800","n":2,"v":175},{"s":"800","n":3,"v":174},{"s":"800","n":4,"v":172},{"s":"800","n":5,"v":167},{"s":"800","n":6,"v":167},{"s":"800","n":7,"v":148.7},{"s":"800","n":8,"v":146.6},{"s":"800","n":9,"v":147.7},{"s":"800","n":10,"v":146.6},{"s":"800","n":11,"v":144},{"s":"800","n":12,"v":141},{"s":"800","n":13,"v":115},{"s":"800","n":14,"v":116.5},{"s":"800","n":15,"v":118},{"s":"800","n":16,"v":118.5},{"s":"800","n":17,"v":118},{"s":"800","n":18,"v":118},{"s":"800","n":19,"v":90.5},{"s":"800","n":20,"v":88.5},{"s":"800","n":21,"v":90},{"s":"800","n":22,"v":90.5},{"s":"800","n":23,"v":90},{"s":"800","n":24,"v":90},{"s":"800","n":25,"v":73},{"s":"800","n":26,"v":69},{"s":"800","n":27,"v":68.5},{"s":"800","n":28,"v":68},{"s":"800","n":29,"v":67},{"s":"800","n":30,"v":67},{"s":"800","n":31,"v":170},{"s":"800","n":32,"v":172},{"s":"800","n":33,"v":172},{"s":"800","n":34,"v":173.5},{"s":"800","n":35,"v":172}
  ]},
  "encoding":{
   "x":{"field":"n","type":"quantitative","scale":{"domain":[0,36],"nice":false,"zero":false},
    "axis":{"title":"Number","values":[0,2.5,5,7.5,10,12.5,15,17.5,20,22.5,25,27.5,30,32.5,35],"labelExpr":"datum.value % 5 === 0 ? datum.label : ''","tickSize":{"condition":{"test":"datum.value % 5 !== 0","value":4},"value":7}}},
   "y":{"field":"v","type":"quantitative","scale":{"domain":[0,220],"nice":false,"zero":false},
    "axis":{"title":"Capacity (mAh/g)","titlePadding":11,"values":[0,20,40,60,80,100,120,140,160,180,200,220],"labelExpr":"datum.value % 40 === 0 ? datum.label : ''","tickSize":{"condition":{"test":"datum.value % 40 !== 0","value":4},"value":7}}}
  },
  "layer":[
   {
    "encoding":{
     "color":{"field":"s","type":"nominal","scale":{"domain":["Air","700","500","800","600"],"range":["#000000","#ff00ff","#ff0000","#808000","#0000ff"]},
      "legend":{"title":null,"orient":"none","legendX":115,"legendY":10,"columns":3,"symbolSize":625,"symbolStrokeWidth":1,"symbolOffset":12,"labelOffset":17,"labelFont":"Liberation Serif","labelFontSize":22,"labelColor":"black","rowPadding":3,"columnPadding":4,"padding":0,
       "encode":{"symbols":{"update":{"shape":{"signal":"datum.value==='Air'?'M-2,0H2M-0.4,-0.4H0.4V0.4H-0.4Z':datum.value==='500'?'M-2,0H2M-0.42,0A0.42,0.42,0,1,0,0.42,0A0.42,0.42,0,1,0,-0.42,0Z':datum.value==='600'?'M-2,0H2M0,-0.46L0.48,0.36H-0.48Z':datum.value==='700'?'M-2,0H2M0,0.46L0.48,-0.36H-0.48Z':'M-2,0H2M0,-0.5L0.5,0L0,0.5L-0.5,0Z'"},"opacity":{"value":1}}}}
      }
     }
    },
    "layer":[
     {"mark":{"type":"line","strokeWidth":1}},
     {"transform":[{"filter":"datum.s==='Air'"}],"mark":{"type":"point","filled":true,"size":90,"shape":"square","opacity":1}},
     {"transform":[{"filter":"datum.s==='500'"}],"mark":{"type":"point","filled":true,"size":90,"shape":"circle","opacity":1}},
     {"transform":[{"filter":"datum.s==='600'"}],"mark":{"type":"point","filled":true,"size":90,"shape":"triangle-up","opacity":1}},
     {"transform":[{"filter":"datum.s==='700'"}],"mark":{"type":"point","filled":true,"size":90,"shape":"triangle-down","opacity":1}},
     {"transform":[{"filter":"datum.s==='800'"}],"mark":{"type":"point","filled":true,"size":90,"shape":"diamond","opacity":1}}
    ]
   },
   {"data":{"values":[
     {"t":"20 mA/g","n":3.7,"v":126.3},{"t":"50 mA/g","n":9.4,"v":107},{"t":"100 mA/g","n":15.8,"v":88},{"t":"200 mA/g","n":21.5,"v":68.2},{"t":"300 mA/g","n":27.5,"v":53.6},{"t":"20 mA/g","n":33.2,"v":118}
    ]},
    "mark":{"type":"text","font":"Liberation Serif","fontSize":16,"color":"black","align":"center","baseline":"middle"},
    "encoding":{"text":{"field":"t","type":"nominal"}}}
  ]
 }
 ]
}
]
}
